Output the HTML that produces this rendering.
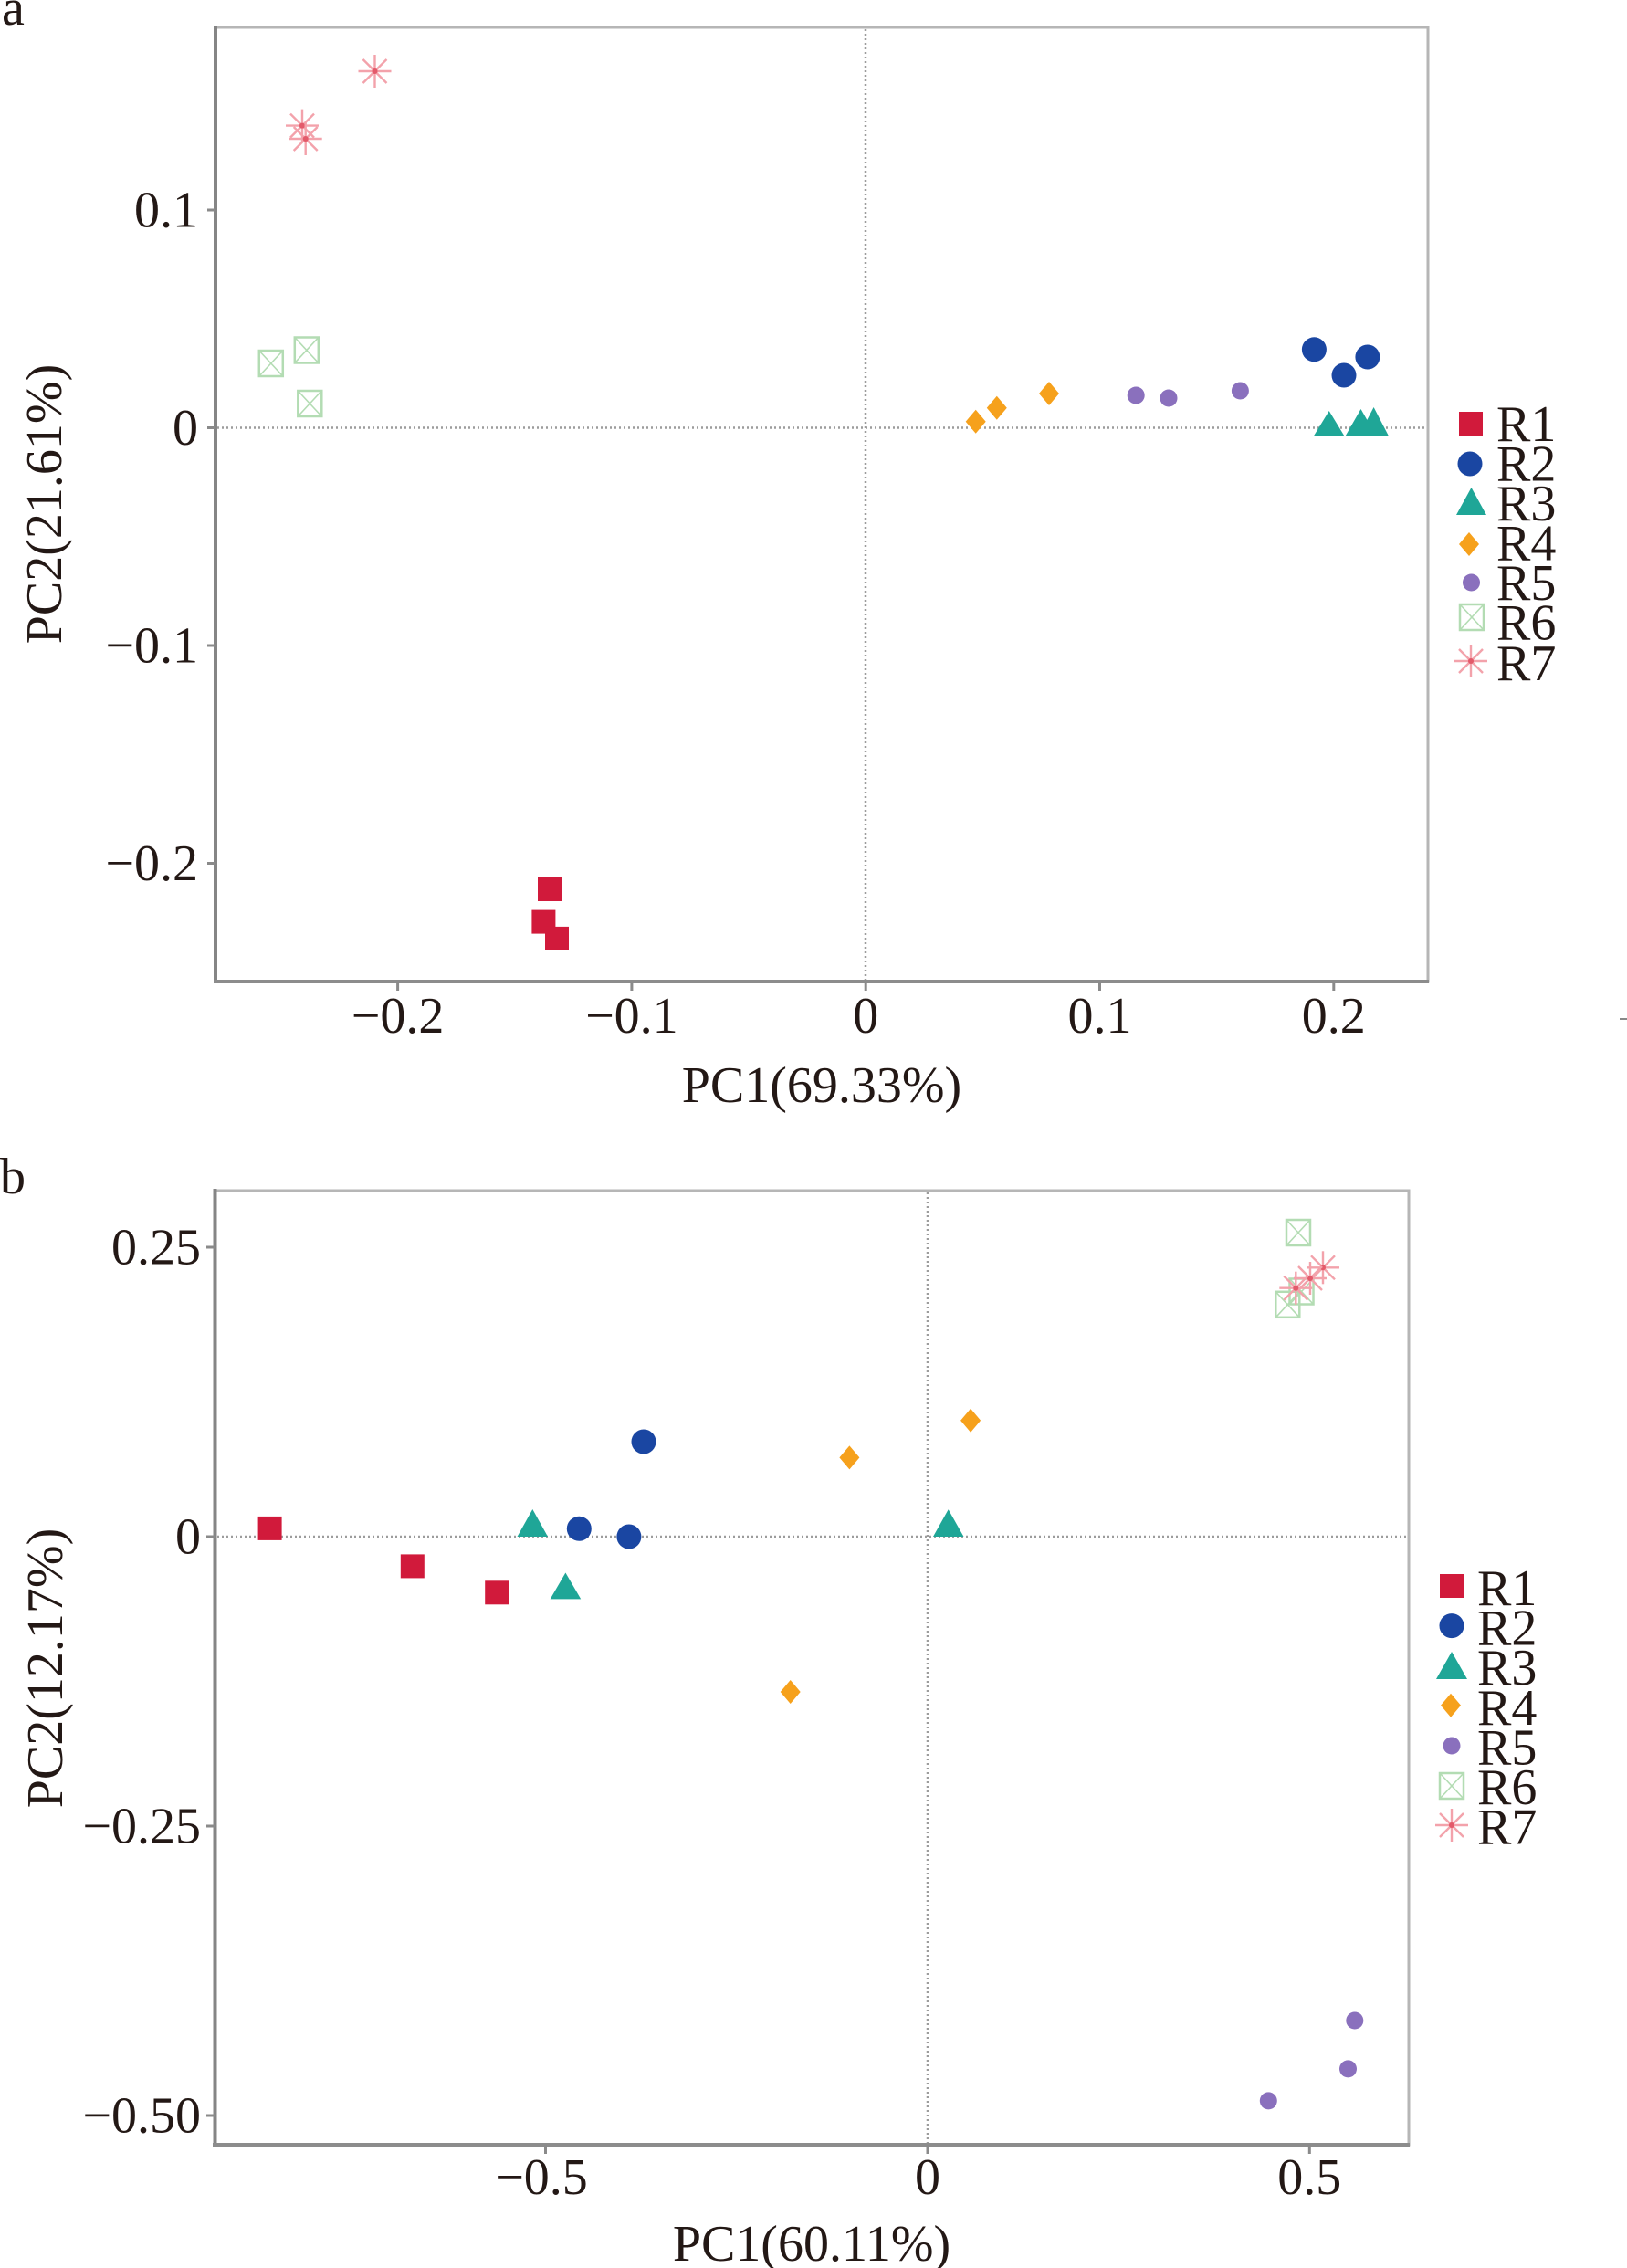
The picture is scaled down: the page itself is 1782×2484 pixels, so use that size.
<!DOCTYPE html>
<html>
<head>
<meta charset="utf-8">
<style>
html,body{margin:0;padding:0;background:#fff;}
svg{display:block;}
text{font-family:"Liberation Serif","Times New Roman",serif;fill:#231815;}
</style>
</head>
<body>
<svg width="1782" height="2484" viewBox="0 0 1782 2484" xmlns="http://www.w3.org/2000/svg">
<defs>
  <g id="sq"><rect x="-13" y="-13" width="26" height="26" fill="#d11a3b"/></g>
  <g id="c2"><circle r="13.5" fill="#1a46a2"/></g>
  <g id="dm"><polygon points="0,-13 11,0 0,13 -11,0" fill="#f6a11c"/></g>
  <g id="c5"><circle r="9.5" fill="#8a70bd"/></g>
  <g id="bx"><rect x="-13" y="-14" width="26" height="28" fill="none" stroke="#b3dcb3" stroke-width="2.5"/>
    <line x1="-13" y1="-14" x2="13" y2="14" stroke="#b3dcb3" stroke-width="1.6"/>
    <line x1="13" y1="-14" x2="-13" y2="14" stroke="#b3dcb3" stroke-width="1.6"/></g>
  <g id="st" stroke="#f3a2ab" stroke-width="2.4">
    <line x1="-18" y1="0" x2="18" y2="0"/><line x1="0" y1="-18" x2="0" y2="18"/>
    <line x1="-13" y1="-13" x2="13" y2="13"/><line x1="13" y1="-13" x2="-13" y2="13"/>
    <circle r="3" fill="#e35a6a" stroke="none"/></g>
</defs>

<!-- ================= PANEL A ================= -->
<text x="2" y="27" font-size="56">a</text>
<rect x="236" y="30" width="1328" height="1045" fill="none" stroke="#b6b6b6" stroke-width="3"/>
<line x1="236" y1="28" x2="236" y2="1077" stroke="#858585" stroke-width="4"/>
<line x1="234" y1="1075" x2="1565" y2="1075" stroke="#8c8c8c" stroke-width="4"/>
<!-- zero lines -->
<line x1="238" y1="468.5" x2="1562" y2="468.5" stroke="#9c9c9c" stroke-width="2.5" stroke-dasharray="2 3"/>
<line x1="948" y1="32" x2="948" y2="1073" stroke="#9c9c9c" stroke-width="2.5" stroke-dasharray="2 3"/>
<!-- y ticks -->
<g stroke="#8a8a8a" stroke-width="3">
  <line x1="227" y1="230" x2="236" y2="230"/>
  <line x1="227" y1="468.5" x2="236" y2="468.5"/>
  <line x1="227" y1="707" x2="236" y2="707"/>
  <line x1="227" y1="945.5" x2="236" y2="945.5"/>
  <line x1="435.6" y1="1075" x2="435.6" y2="1085"/>
  <line x1="691.9" y1="1075" x2="691.9" y2="1085"/>
  <line x1="948.2" y1="1075" x2="948.2" y2="1085"/>
  <line x1="1204.5" y1="1075" x2="1204.5" y2="1085"/>
  <line x1="1460.8" y1="1075" x2="1460.8" y2="1085"/>
</g>
<g font-size="56" text-anchor="end">
  <text x="217" y="248.5">0.1</text>
  <text x="217" y="487">0</text>
  <text x="217" y="725.5">−0.1</text>
  <text x="217" y="964">−0.2</text>
</g>
<g font-size="56" text-anchor="middle">
  <text x="435.6" y="1131">−0.2</text>
  <text x="691.9" y="1131">−0.1</text>
  <text x="948.2" y="1131">0</text>
  <text x="1204.5" y="1131">0.1</text>
  <text x="1460.8" y="1131">0.2</text>
  <text x="900" y="1207">PC1(69.33%)</text>
  <text transform="translate(67,552) rotate(-90)">PC2(21.61%)</text>
</g>
<!-- data a -->
<use href="#st" transform="translate(410.5,78)"/>
<use href="#st" transform="translate(331,137.6)"/>
<use href="#st" transform="translate(334.7,152)"/>
<use href="#bx" transform="translate(296.8,398)"/>
<use href="#bx" transform="translate(335.8,383.5)"/>
<use href="#bx" transform="translate(339.3,442)"/>
<use href="#sq" transform="translate(602,974)"/>
<use href="#sq" transform="translate(595.4,1009.6)"/>
<use href="#sq" transform="translate(610,1027.9)"/>
<use href="#dm" transform="translate(1068.7,461.8)"/>
<use href="#dm" transform="translate(1091.8,446.8)"/>
<use href="#dm" transform="translate(1149,431)"/>
<use href="#c5" transform="translate(1244.2,433)"/>
<use href="#c5" transform="translate(1280,436)"/>
<use href="#c5" transform="translate(1358.4,428)"/>
<use href="#c2" transform="translate(1439.4,382.8)"/>
<use href="#c2" transform="translate(1472,411)"/>
<use href="#c2" transform="translate(1497.9,391)"/>
<polygon points="1438.8,477.6 1472.5,477.6 1455.7,450" fill="#1fa697"/>
<polygon points="1473.5,477.6 1507.5,477.6 1490.5,448" fill="#1fa697"/>
<polygon points="1488,477.6 1521,477.6 1504.6,446" fill="#1fa697"/>
<!-- legend a -->
<use href="#sq" transform="translate(1611,464)"/>
<use href="#c2" transform="translate(1610,508)"/>
<polygon points="1595,564 1628,564 1611.5,534" fill="#1fa697"/>
<use href="#dm" transform="translate(1609,596)"/>
<use href="#c5" transform="translate(1611.5,638)"/>
<use href="#bx" transform="translate(1612,676)"/>
<use href="#st" transform="translate(1611,724)"/>
<g font-size="56">
  <text x="1639" y="483">R1</text>
  <text x="1639" y="526.5">R2</text>
  <text x="1639" y="570">R3</text>
  <text x="1639" y="613.5">R4</text>
  <text x="1639" y="657">R5</text>
  <text x="1639" y="700.5">R6</text>
  <text x="1639" y="745">R7</text>
</g>
<line x1="1774" y1="1116" x2="1782" y2="1116" stroke="#888" stroke-width="2"/>

<!-- ================= PANEL B ================= -->
<text x="0" y="1307" font-size="56">b</text>
<rect x="235.5" y="1304" width="1307.5" height="1045" fill="none" stroke="#b6b6b6" stroke-width="3"/>
<line x1="235.5" y1="1302" x2="235.5" y2="2351" stroke="#858585" stroke-width="4"/>
<line x1="233" y1="2349" x2="1544" y2="2349" stroke="#8c8c8c" stroke-width="4"/>
<line x1="238" y1="1683" x2="1541" y2="1683" stroke="#9c9c9c" stroke-width="2.5" stroke-dasharray="2 3"/>
<line x1="1016" y1="1306" x2="1016" y2="2347" stroke="#9c9c9c" stroke-width="2.5" stroke-dasharray="2 3"/>
<g stroke="#8a8a8a" stroke-width="3">
  <line x1="226" y1="1366" x2="235" y2="1366"/>
  <line x1="226" y1="1683" x2="235" y2="1683"/>
  <line x1="226" y1="2000" x2="235" y2="2000"/>
  <line x1="226" y1="2317" x2="235" y2="2317"/>
  <line x1="597.5" y1="2349" x2="597.5" y2="2359"/>
  <line x1="1016" y1="2349" x2="1016" y2="2359"/>
  <line x1="1434.3" y1="2349" x2="1434.3" y2="2359"/>
</g>
<g font-size="56" text-anchor="end">
  <text x="220" y="1384.5">0.25</text>
  <text x="220" y="1701.5">0</text>
  <text x="220" y="2018.5">−0.25</text>
  <text x="220" y="2335.5">−0.50</text>
</g>
<g font-size="56" text-anchor="middle">
  <text x="593" y="2403">−0.5</text>
  <text x="1016" y="2403">0</text>
  <text x="1434.3" y="2403">0.5</text>
  <text x="889" y="2476">PC1(60.11%)</text>
  <text transform="translate(68,1827) rotate(-90)">PC2(12.17%)</text>
</g>
<!-- data b -->
<use href="#sq" transform="translate(295.6,1673.9)"/>
<use href="#sq" transform="translate(451.8,1715.4)"/>
<use href="#sq" transform="translate(544.2,1744.3)"/>
<polygon points="566.5,1683 600,1683 583.3,1653" fill="#1fa697"/>
<polygon points="602.6,1751.4 636.2,1751.4 619.4,1722.5" fill="#1fa697"/>
<polygon points="1022,1683 1055.5,1683 1038.7,1653.3" fill="#1fa697"/>
<use href="#c2" transform="translate(634.3,1674.3)"/>
<use href="#c2" transform="translate(688.9,1683)"/>
<use href="#c2" transform="translate(705,1579)"/>
<use href="#dm" transform="translate(865.7,1853)"/>
<use href="#dm" transform="translate(930.4,1596.4)"/>
<use href="#dm" transform="translate(1063.1,1555.7)"/>
<use href="#c5" transform="translate(1483.8,2213)"/>
<use href="#c5" transform="translate(1476.5,2265.9)"/>
<use href="#c5" transform="translate(1389.3,2300.9)"/>
<use href="#bx" transform="translate(1422,1350)"/>
<use href="#bx" transform="translate(1425.5,1414.5)"/>
<use href="#bx" transform="translate(1410.3,1428.8)"/>
<use href="#st" transform="translate(1449,1388.3)"/>
<use href="#st" transform="translate(1435,1400)"/>
<use href="#st" transform="translate(1419.3,1410.7)"/>
<!-- legend b -->
<use href="#sq" transform="translate(1590,1737)"/>
<use href="#c2" transform="translate(1590,1780.6)"/>
<polygon points="1573,1839 1607,1839 1590,1809" fill="#1fa697"/>
<use href="#dm" transform="translate(1589,1867.8)"/>
<use href="#c5" transform="translate(1590,1912)"/>
<use href="#bx" transform="translate(1590,1956)"/>
<use href="#st" transform="translate(1590,1999)"/>
<g font-size="56">
  <text x="1618" y="1758">R1</text>
  <text x="1618" y="1801.6">R2</text>
  <text x="1618" y="1845.2">R3</text>
  <text x="1618" y="1888.8">R4</text>
  <text x="1618" y="1932.4">R5</text>
  <text x="1618" y="1976">R6</text>
  <text x="1618" y="2019.6">R7</text>
</g>
</svg>
</body>
</html>
